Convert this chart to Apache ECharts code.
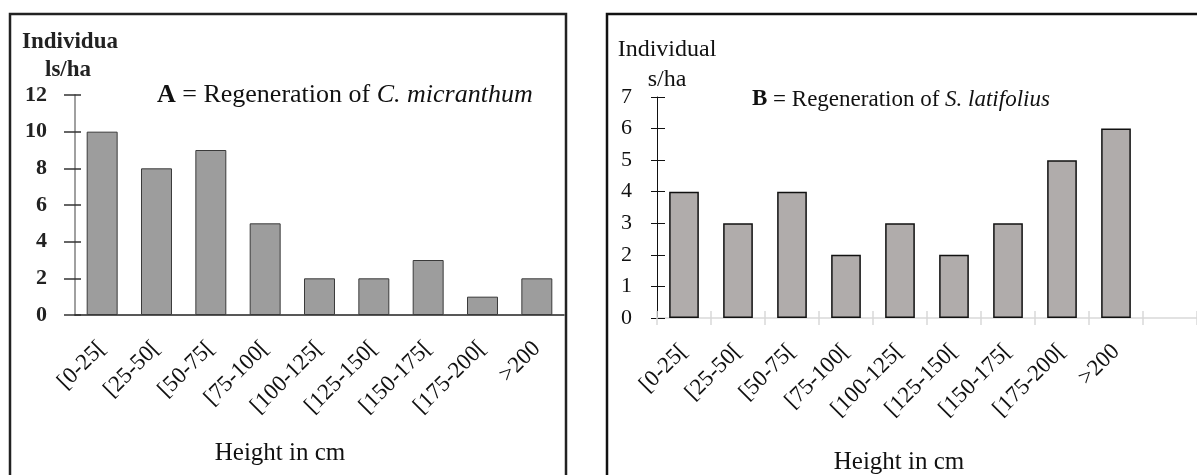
<!DOCTYPE html>
<html>
<head>
<meta charset="utf-8">
<script src="https://cdn.jsdelivr.net/npm/echarts@6/dist/echarts.min.js"></script>
<style>
	html,body{margin:0;padding:0;background:#fff;}
	#chart{width:1197px;height:475px;}
</style>
</head>
<body>
<div id="chart"></div>
<script>
	//data
	var heightClasses = ['[0-25[', '[25-50[', '[50-75[', '[75-100[', '[100-125[', '[125-150[', '[150-175[', '[175-200[', '>200'];
	var heightClassesB = heightClasses.concat(['']);  //panel B keeps one empty slot at the end
	var valuesA = [10, 8, 9, 5, 2, 2, 3, 1, 2];  //C. micranthum
	var valuesB = [4, 3, 4, 2, 3, 2, 3, 5, 6, null];  //S. latifolius
	var yMaxA = 12, yStepA = 2;
	var yMaxB = 7, yStepB = 1;

	var serif = '"Liberation Serif", "Times New Roman", serif';

	//x axis label style
	var xLabel = {
		rotate: 45,
		interval: 0,
		margin: 30,
		fontFamily: serif,
		fontSize: 23,
		color: '#111'
	};

	var chartOption = {
		animation: false,
		title: [{
			left: 157,
			top: 82,
			padding: 0,
			text: '{b|A} = Regeneration of {i|C. micranthum}',
			textStyle: {
				fontFamily: serif, fontSize: 26, fontWeight: 'normal', color: '#111',
				rich: {
					b: {fontFamily: serif, fontSize: 26, fontWeight: 'bold', color: '#111'},
					i: {fontFamily: serif, fontSize: 26, fontStyle: 'italic', color: '#111'}
				}
			}
		}, {
			left: 752,
			top: 88,
			padding: 0,
			text: '{b|B} = Regeneration of {i|S. latifolius}',
			textStyle: {
				fontFamily: serif, fontSize: 23, fontWeight: 'normal', color: '#111',
				rich: {
					b: {fontFamily: serif, fontSize: 23, fontWeight: 'bold', color: '#111'},
					i: {fontFamily: serif, fontSize: 23, fontStyle: 'italic', color: '#111'}
				}
			}
		}],
		grid: [
			{left: 75, top: 95, width: 489, height: 220},
			{left: 657, top: 97, width: 543, height: 221}
		],
		xAxis: [{
			gridIndex: 0,
			type: 'category',
			data: heightClasses,
			axisLine: {lineStyle: {color: '#222', width: 1.5}},
			axisTick: {show: false},
			axisLabel: xLabel
		}, {
			gridIndex: 1,
			type: 'category',
			data: heightClassesB,
			position: 'bottom',
			axisLine: {lineStyle: {color: '#d9d9d9', width: 1.5}},
			axisTick: {show: true, interval: 0, length: 7, lineStyle: {color: '#d9d9d9', width: 1.5}},
			axisLabel: xLabel
		}, {
			gridIndex: 1,  //second copy only for the inner half of the crossing ticks
			type: 'category',
			data: heightClassesB,
			position: 'bottom',
			axisLine: {show: false},
			axisTick: {show: true, interval: 0, inside: true, length: 7, lineStyle: {color: '#d9d9d9', width: 1.5}},
			axisLabel: {show: false}
		}],
		yAxis: [{
			gridIndex: 0,
			type: 'value',
			position: 'left',
			min: 0, max: yMaxA, interval: yStepA,
			splitLine: {show: false},
			axisLine: {show: true, lineStyle: {color: '#a0a0a0', width: 2}},
			axisTick: {show: true, length: 11, lineStyle: {color: '#333', width: 1.5}},
			axisLabel: {margin: 28, fontFamily: serif, fontSize: 22, fontWeight: 'bold', color: '#222'}
		}, {
			gridIndex: 0,
			type: 'value',
			position: 'left',
			min: 0, max: yMaxA, interval: yStepA,
			splitLine: {show: false},
			axisLine: {show: false},
			axisTick: {show: true, inside: true, length: 6, lineStyle: {color: '#333', width: 1.5}},
			axisLabel: {show: false}
		}, {
			gridIndex: 1,
			type: 'value',
			position: 'left',
			min: 0, max: yMaxB, interval: yStepB,
			splitLine: {show: false},
			axisLine: {show: true, lineStyle: {color: '#111', width: 1}},
			axisTick: {show: true, length: 6, lineStyle: {color: '#111', width: 1}},
			axisLabel: {margin: 25, fontFamily: serif, fontSize: 22, color: '#111'}
		}, {
			gridIndex: 1,
			type: 'value',
			position: 'left',
			min: 0, max: yMaxB, interval: yStepB,
			splitLine: {show: false},
			axisLine: {show: false},
			axisTick: {show: true, inside: true, length: 8, lineStyle: {color: '#111', width: 1}},
			axisLabel: {show: false}
		}],
		series: [{
			name: 'C. micranthum',
			type: 'bar',
			xAxisIndex: 0,
			yAxisIndex: 0,
			data: valuesA,
			barWidth: '57%',
			itemStyle: {color: '#9d9d9d', borderColor: '#3a3a3a', borderWidth: 1}
		}, {
			name: 'S. latifolius',
			type: 'bar',
			xAxisIndex: 1,
			yAxisIndex: 2,
			data: valuesB,
			barWidth: '55%',
			itemStyle: {color: '#b0acab', borderColor: '#111', borderWidth: 1.5}
		}],
		graphic: [
			//panel frames
			{type: 'rect', shape: {x: 10, y: 14, width: 556, height: 480}, style: {fill: null, stroke: '#222', lineWidth: 2.5}},
			{type: 'rect', shape: {x: 607, y: 14, width: 620, height: 480}, style: {fill: null, stroke: '#111', lineWidth: 2.5}},
			//axis names
			{type: 'text', style: {text: 'Individua', x: 70, y: 42, align: 'center', verticalAlign: 'middle', font: 'bold 23px ' + serif, fill: '#222'}},
			{type: 'text', style: {text: 'ls/ha', x: 68, y: 70, align: 'center', verticalAlign: 'middle', font: 'bold 23px ' + serif, fill: '#222'}},
			{type: 'text', style: {text: 'Individual', x: 667, y: 50, align: 'center', verticalAlign: 'middle', font: '24px ' + serif, fill: '#111'}},
			{type: 'text', style: {text: 's/ha', x: 667, y: 80, align: 'center', verticalAlign: 'middle', font: '24px ' + serif, fill: '#111'}},
			{type: 'text', style: {text: 'Height in cm', x: 280, y: 453, align: 'center', verticalAlign: 'middle', font: '25px ' + serif, fill: '#111'}},
			{type: 'text', style: {text: 'Height in cm', x: 899, y: 462, align: 'center', verticalAlign: 'middle', font: '25px ' + serif, fill: '#111'}}
		]
	};

	var barChart = echarts.init(document.getElementById('chart'));
	barChart.setOption(chartOption);
</script>
</body>
</html>
